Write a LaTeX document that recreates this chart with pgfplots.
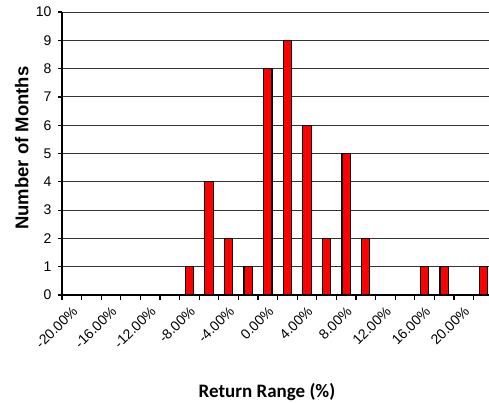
\documentclass[border=0pt]{standalone}
\usepackage{pgfplots}
\pgfplotsset{compat=1.18}
\usepackage{fontspec}
\setmainfont{Liberation Sans}
\newfontfamily\calibri{Carlito}

\begin{document}
\begin{tikzpicture}
\path[use as bounding box] (-62pt,-107pt) rectangle (427pt,295pt);
\begin{axis}[
  at={(0,0)}, anchor=south west,
  width=427pt, height=283pt, scale only axis,
  ybar, bar width=8.3pt,
  ymin=0, ymax=10, ytick={0,...,10},
  xmin=-0.5, xmax=21.29,
  enlargelimits=false,
  axis x line*=bottom, axis y line*=left,
  axis line style={black, line width=1.4pt},
  ymajorgrids,
  grid style={black!80, line width=0.9pt},
  xtick={0,2,...,20},
  xticklabels={-20.00\%,-16.00\%,-12.00\%,-8.00\%,-4.00\%,0.00\%,4.00\%,8.00\%,12.00\%,16.00\%,20.00\%},
  minor xtick={-0.5,0.5,...,20.5},
  major x tick style={draw=none},
  minor x tick style={black, line width=1.2pt},
  major y tick style={black, line width=1.2pt},
  tick align=outside,
  major tick length=4pt, minor tick length=5pt,
  /pgf/number format/assume math mode=true,
  tick label style={font=\fontsize{14}{16}\selectfont},
  yticklabel style={xshift=-3pt},
  xticklabel style={xshift=4pt, yshift=-9pt, rotate=45, anchor=east, inner sep=1pt},
  xlabel={Return Range (\%)},
  ylabel={Number of Months},
  xlabel style={at={(axis description cs:0.48,-0.343)}, anchor=center,
    font=\calibri\bfseries\fontsize{19}{22}\selectfont},
  ylabel style={at={(axis description cs:-0.094,0.519)}, anchor=center,
    font=\bfseries\fontsize{18.5}{22}\selectfont},
]
\addplot[fill=red, draw=black, line width=1.2pt] coordinates {
  (6,1) (7,4) (8,2) (9,1) (10,8) (11,9) (12,6) (13,2) (14,5) (15,2)
  (18,1) (19,1) (21,1)
};
\end{axis}
\end{tikzpicture}
\end{document}
